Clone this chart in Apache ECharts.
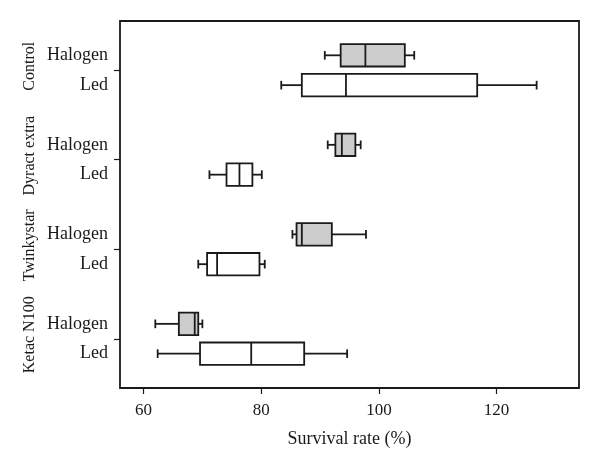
<!DOCTYPE html>
<html>
<head>
<meta charset="utf-8">
<script src="https://cdn.jsdelivr.net/npm/echarts@6/dist/echarts.min.js"></script>
<style>html,body{margin:0;padding:0;background:#fff}#c{width:600px;height:470px}</style>
</head>
<body>
<div id="c"></div>
<script>
// ---- data ----
const groups = ['Control', 'Dyract extra', 'Twinkystar', 'Ketac N100'];
const lights = ['Halogen', 'Led'];
// [min, Q1, median, Q3, max]
const halogenStats = [
  [90.8, 93.5, 97.7, 104.4, 106.0],
  [91.3, 92.6, 93.7, 96.0, 96.9],
  [85.3, 86.0, 86.9, 92.0, 97.8],
  [62.0, 66.0, 68.7, 69.3, 70.0]
];
const ledStats = [
  [83.4, 86.9, 94.4, 116.7, 126.8],
  [71.2, 74.1, 76.3, 78.5, 80.1],
  [69.3, 70.8, 72.5, 79.7, 80.6],
  [62.4, 69.6, 78.3, 87.3, 94.6]
];
const xTicks = [60, 80, 100, 120];
const xTitle = 'Survival rate (%)';

// ---- layout positions on the vertical value axis ----
const rowPos = {};      // position -> light label
const groupPos = {};    // position -> group label
const boxData = [];
groups.forEach((g, i) => {
  const base = (groups.length - 1 - i) * 3;
  const hPos = base + 1, lPos = base;
  rowPos[hPos] = lights[0];
  rowPos[lPos] = lights[1];
  groupPos[String(base + 0.5)] = g;
  boxData.push([hPos].concat(halogenStats[i], [1]));
  boxData.push([lPos].concat(ledStats[i], [0]));
});
const rowVals = Object.keys(rowPos).map(Number);
const groupVals = Object.keys(groupPos).map(Number);

const FONT = "'Liberation Serif', 'DejaVu Serif', serif";
const INK = '#1a1a1a';
const YMIN = -1.15, YMAX = 11.15;

const chart = echarts.init(document.getElementById('c'));
chart.setOption({
  animation: false,
  backgroundColor: '#fff',
  grid: {
    left: 120, right: 21, top: 21, bottom: 82,
    show: true, borderColor: INK, borderWidth: 1.8, backgroundColor: 'transparent'
  },
  xAxis: {
    type: 'value', min: 56, max: 134,
    splitLine: { show: false },
    axisLine: { show: false, onZero: false },
    axisTick: { show: true, customValues: xTicks, length: 6, lineStyle: { color: INK, width: 1.2 } },
    axisLabel: { customValues: xTicks, margin: 14, color: INK, fontFamily: FONT, fontSize: 17 },
    name: xTitle, nameLocation: 'middle', nameGap: 42,
    nameTextStyle: { color: INK, fontFamily: FONT, fontSize: 18 }
  },
  yAxis: [
    {
      type: 'value', min: YMIN, max: YMAX,
      splitLine: { show: false },
      axisLine: { show: false, onZero: false },
      axisTick: { show: true, customValues: groupVals, length: 6, lineStyle: { color: INK, width: 1.2 } },
      axisLabel: {
        customValues: groupVals, rotate: 90, margin: 82,
        color: INK, fontFamily: FONT, fontSize: 16,
        padding: [0, 0, 0, 8],
        formatter: v => groupPos[String(v)] || ''
      }
    },
    {
      type: 'value', min: YMIN, max: YMAX, position: 'left',
      splitLine: { show: false },
      axisLine: { show: false, onZero: false },
      axisTick: { show: false },
      axisLabel: {
        customValues: rowVals, margin: 12,
        color: INK, fontFamily: FONT, fontSize: 18,
        formatter: v => rowPos[v] || ''
      }
    }
  ],
  series: [{
    type: 'custom',
    yAxisIndex: 0,
    encode: { x: [1, 2, 3, 4, 5], y: 0 },
    data: boxData,
    renderItem: function (params, api) {
      const y = api.value(0);
      const pMin = api.coord([api.value(1), y]);
      const pQ1 = api.coord([api.value(2), y]);
      const pMed = api.coord([api.value(3), y]);
      const pQ3 = api.coord([api.value(4), y]);
      const pMax = api.coord([api.value(5), y]);
      const halo = api.value(6) === 1;
      const bh = api.size([0, 0.75])[1];
      const ch = api.size([0, 0.29])[1];
      const cy = pMin[1];
      const ls = { stroke: INK, lineWidth: 1.8 };
      return {
        type: 'group',
        children: [
          { type: 'line', shape: { x1: pMin[0], y1: cy, x2: pQ1[0], y2: cy }, style: ls },
          { type: 'line', shape: { x1: pQ3[0], y1: cy, x2: pMax[0], y2: cy }, style: ls },
          { type: 'line', shape: { x1: pMin[0], y1: cy - ch / 2, x2: pMin[0], y2: cy + ch / 2 }, style: ls },
          { type: 'line', shape: { x1: pMax[0], y1: cy - ch / 2, x2: pMax[0], y2: cy + ch / 2 }, style: ls },
          { type: 'rect', shape: { x: pQ1[0], y: cy - bh / 2, width: pQ3[0] - pQ1[0], height: bh },
            style: { fill: halo ? '#cdcdcd' : '#ffffff', stroke: INK, lineWidth: 1.8 } },
          { type: 'line', shape: { x1: pMed[0], y1: cy - bh / 2, x2: pMed[0], y2: cy + bh / 2 }, style: ls }
        ]
      };
    }
  }]
});
</script>
</body>
</html>
